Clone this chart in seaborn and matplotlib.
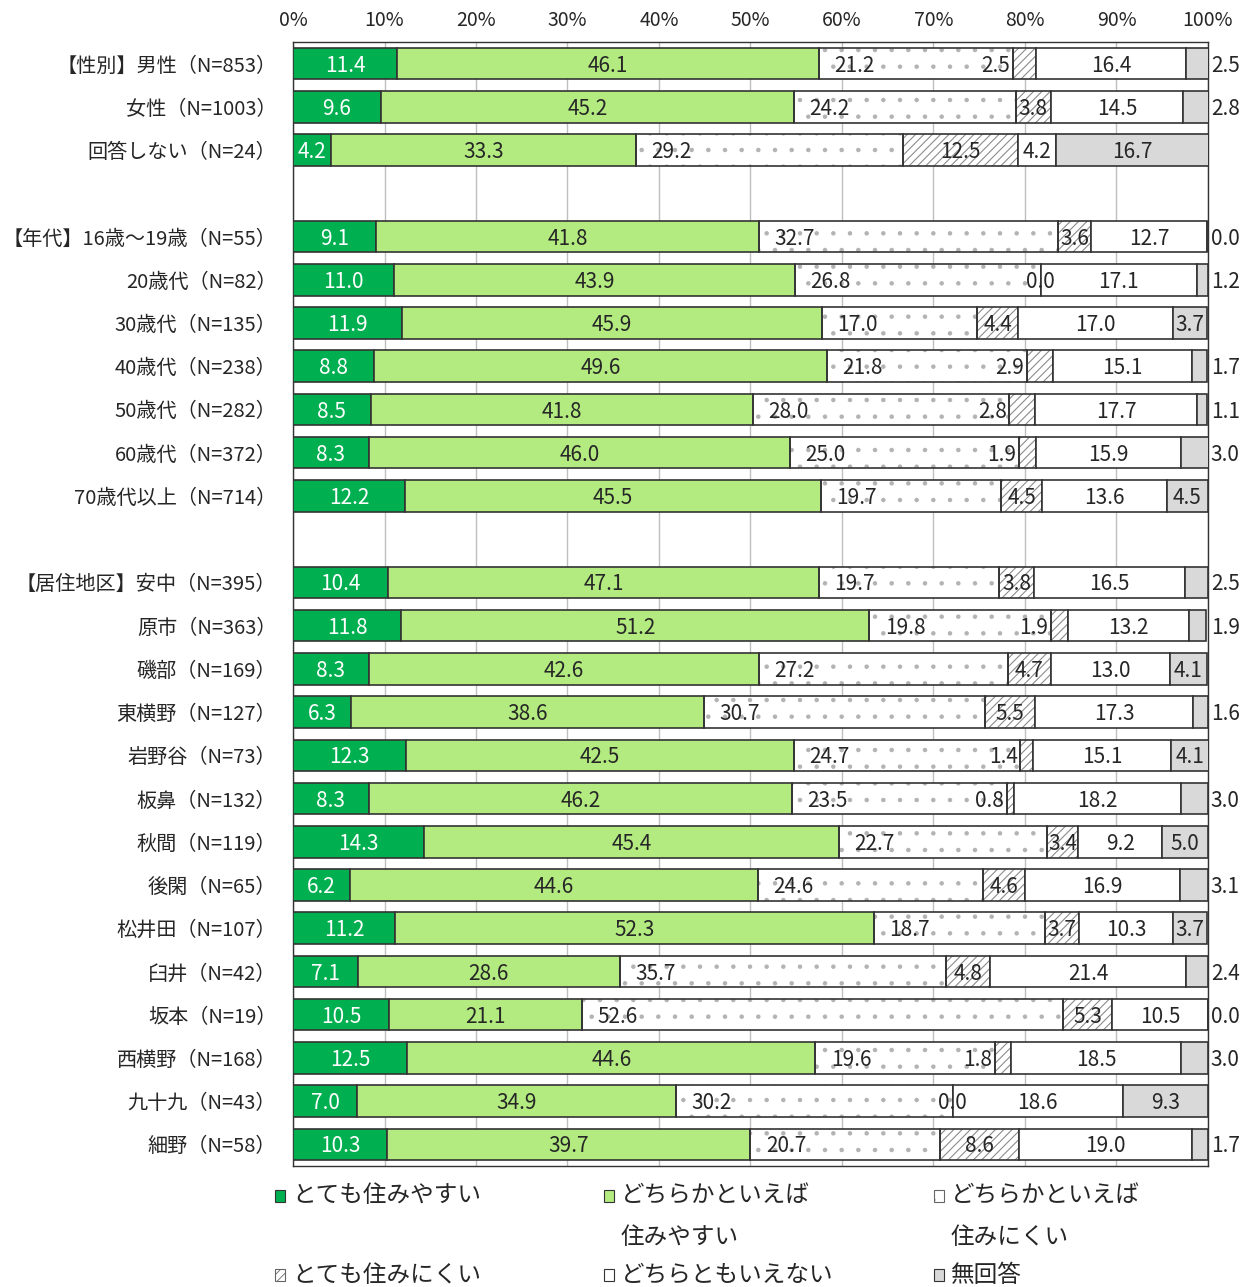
# IMPORTING LIBRARIES

import numpy as np
import matplotlib
matplotlib.use('Agg')
import matplotlib.pyplot as plt
import matplotlib.patches as mpatches
import seaborn as sns


# DATA (PERCENTAGES)

labels = [
    '【性別】男性（N=853）', '女性（N=1003）', '回答しない（N=24）',
    '【年代】16歳～19歳（N=55）', '20歳代（N=82）', '30歳代（N=135）', '40歳代（N=238）',
    '50歳代（N=282）', '60歳代（N=372）', '70歳代以上（N=714）',
    '【居住地区】安中（N=395）', '原市（N=363）', '磯部（N=169）', '東横野（N=127）',
    '岩野谷（N=73）', '板鼻（N=132）', '秋間（N=119）', '後閑（N=65）', '松井田（N=107）',
    '臼井（N=42）', '坂本（N=19）', '西横野（N=168）', '九十九（N=43）', '細野（N=58）',
]
group_sizes = [3, 7, 14]

very_easy = [11.4, 9.6, 4.2,
             9.1, 11.0, 11.9, 8.8, 8.5, 8.3, 12.2,
             10.4, 11.8, 8.3, 6.3, 12.3, 8.3, 14.3, 6.2, 11.2, 7.1, 10.5, 12.5, 7.0, 10.3]
rather_easy = [46.1, 45.2, 33.3,
               41.8, 43.9, 45.9, 49.6, 41.8, 46.0, 45.5,
               47.1, 51.2, 42.6, 38.6, 42.5, 46.2, 45.4, 44.6, 52.3, 28.6, 21.1, 44.6, 34.9, 39.7]
rather_hard = [21.2, 24.2, 29.2,
               32.7, 26.8, 17.0, 21.8, 28.0, 25.0, 19.7,
               19.7, 19.8, 27.2, 30.7, 24.7, 23.5, 22.7, 24.6, 18.7, 35.7, 52.6, 19.6, 30.2, 20.7]
very_hard = [2.5, 3.8, 12.5,
             3.6, 0.0, 4.4, 2.9, 2.8, 1.9, 4.5,
             3.8, 1.9, 4.7, 5.5, 1.4, 0.8, 3.4, 4.6, 3.7, 4.8, 5.3, 1.8, 0.0, 8.6]
neutral = [16.4, 14.5, 4.2,
           12.7, 17.1, 17.0, 15.1, 17.7, 15.9, 13.6,
           16.5, 13.2, 13.0, 17.3, 15.1, 18.2, 9.2, 16.9, 10.3, 21.4, 10.5, 18.5, 18.6, 19.0]
no_answer = [2.5, 2.8, 16.7,
             0.0, 1.2, 3.7, 1.7, 1.1, 3.0, 4.5,
             2.5, 1.9, 4.1, 1.6, 4.1, 3.0, 5.0, 3.1, 3.7, 2.4, 0.0, 3.0, 9.3, 1.7]

series_names = ['とても住みやすい', 'どちらかといえば\n住みやすい', 'どちらかといえば\n住みにくい',
                'とても住みにくい', 'どちらともいえない', '無回答']


# STYLE

sns.set_theme(style='white')
plt.rcParams['font.family'] = ['Noto Sans CJK JP', 'DejaVu Sans']

EDGE = '#333333'
faces = ['#00B050', '#B3EB80', 'white', 'white', 'white', '#D9D9D9']
hatches = [None, None, '.', '////', None, None]
hatch_colors = [None, None, '#b3b3b3', '#8c8c8c', None, None]


# ROW POSITIONS (ONE BLANK ROW BETWEEN GROUPS)

ypos = []
start = 0
for size in group_sizes:
    ypos += list(range(start, start + size))
    start += size + 1
ypos = np.array(ypos)


# PLOTTING THE STACKED BARS

W, H = 1257, 1287
fig = plt.figure(figsize=(W / 100, H / 100), dpi=100)
ax = fig.add_axes([0.2331, 0.094, 0.7279, 0.8734])
plt.rcParams['hatch.linewidth'] = 0.8

series = [very_easy, rather_easy, rather_hard, very_hard, neutral, no_answer]
bar_h = 0.73
left = np.zeros(len(labels))
lefts = []
for vals, fc, ht, hc in zip(series, faces, hatches, hatch_colors):
    vals = np.array(vals)
    if ht:
        ax.barh(ypos, vals, left=left, height=bar_h, color=fc, hatch=ht,
                edgecolor=hc, linewidth=0, zorder=2)
        ax.barh(ypos, vals, left=left, height=bar_h, fill=False,
                edgecolor=EDGE, linewidth=1.2, zorder=3)
    else:
        ax.barh(ypos, vals, left=left, height=bar_h, color=fc,
                edgecolor=EDGE, linewidth=1.2, zorder=3)
    lefts.append(left.copy())
    left += vals


# VALUE LABELS

fs = 15
dy = -1.5
for i, y in enumerate(ypos):
    for k, vals in enumerate(series):
        v = vals[i]
        x0 = lefts[k][i]
        txt = f'{v:.1f}'
        kw = dict(textcoords='offset points', va='center', fontsize=fs, zorder=5)
        if k == 0:
            ax.annotate(txt, (x0 + v / 2, y), xytext=(0, dy), ha='center', color='white', **kw)
        elif k == 2:
            ax.annotate(txt, (x0, y), xytext=(11, dy), ha='left', **kw)
        elif k == 3:
            if v == 0:
                ax.annotate(txt, (x0, y), xytext=(0, dy), ha='center', **kw)
            elif v >= 3.3:
                ax.annotate(txt, (x0 + v / 2, y), xytext=(0, dy), ha='center', **kw)
            else:
                ax.annotate(txt, (x0, y), xytext=(-2, dy), ha='right', **kw)
        elif k == 5:
            if v >= 3.5:
                ax.annotate(txt, (x0 + v / 2, y), xytext=(0, dy), ha='center', **kw)
            else:
                ax.annotate(txt, (100, y), xytext=(2, dy), ha='left', **kw)
        else:
            ax.annotate(txt, (x0 + v / 2, y), xytext=(0, dy), ha='center', **kw)


# AXES

ax.set_xlim(0, 100)
ax.set_ylim(25.5, -0.5)
ax.xaxis.tick_top()
ax.set_xticks(range(0, 101, 10))
ax.set_xticklabels([f'{t}%' for t in range(0, 101, 10)])
ax.set_yticks(ypos)
ax.set_yticklabels(labels)
ax.tick_params(axis='x', length=0, pad=8, labelsize=14)
ax.tick_params(axis='y', length=0, pad=12, labelsize=14.5)
ax.grid(axis='x', color='#BFBFBF', linewidth=1)
ax.set_axisbelow(True)
for s in ax.spines.values():
    s.set_visible(True)
    s.set_color(EDGE)
    s.set_linewidth(1)


# LEGEND (3 COLUMNS x 2 ROWS, MARKER NEXT TO FIRST LINE)

col_x = [275, 604, 934]
row_y = [1196, 1275]
plt.rcParams['hatch.linewidth'] = 0.6
for idx, (name, fc, ht) in enumerate(zip(series_names, faces, hatches)):
    r, c = divmod(idx, 3)
    mx, my = col_x[c], row_y[r]
    mk = mpatches.Rectangle((mx / W, 1 - (my + 6) / H), 10 / W, 12 / H,
                            transform=fig.transFigure, facecolor=fc,
                            edgecolor=EDGE if not ht else '#666666', hatch=ht, linewidth=0.8)
    fig.add_artist(mk)
    lines = name.split('\n')
    for j, line in enumerate(lines):
        fig.text((mx + 17) / W, 1 - (my + j * 41) / H, line, fontsize=17,
                 ha='left', va='center')

fig.savefig('out.png', dpi=100)
